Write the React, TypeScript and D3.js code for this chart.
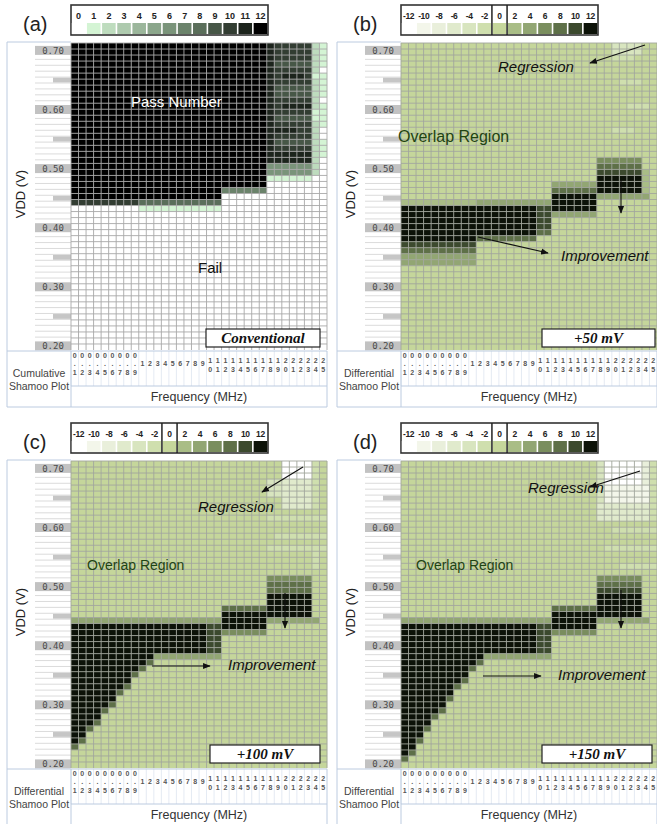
import React from "react";
import * as d3 from "d3";

const W = 657;
const H = 824;
const SANS = "'Liberation Sans', Arial, sans-serif";
const SERIF = "'Liberation Serif', 'Times New Roman', serif";
const MONO = "'DejaVu Sans Mono', monospace";

// ---------- data ----------
const freqLabels = [
  "0.1", "0.2", "0.3", "0.4", "0.5", "0.6", "0.7", "0.8", "0.9",
  "1", "2", "3", "4", "5", "6", "7", "8", "9",
  "10", "11", "12", "13", "14", "15", "16", "17", "18", "19", "20", "21", "22", "23", "24", "25",
];
const vddRows = d3.range(70, 19, -1).map((v) => (v / 100).toFixed(2));
const vddTickLabels = ["0.70", "0.60", "0.50", "0.40", "0.30", "0.20"];
const vddMidTicks = ["0.65", "0.55", "0.45", "0.35", "0.25"];

const passLegend = [0, 1, 2, 3, 4, 5, 6, 7, 8, 9, 10, 11, 12];
const passColors = [
  "#ffffff", "#d4f4d4", "#bedcbe", "#aecaae", "#9bb69b", "#8ba68b", "#7a947a",
  "#6b836b", "#5a6e5a", "#475747", "#323d32", "#1c241c", "#000000",
];
const diffLegend = [-12, -10, -8, -6, -4, -2, 0, 2, 4, 6, 8, 10, 12];
const diffColors = [
  "#ffffff", "#f3f6ea", "#e9efdb", "#e0eacc", "#d8e5bf", "#cfdfae", "#c5d69b",
  "#a9bd86", "#92a673", "#7a8e5e", "#5e7048", "#3c4a2e", "#0c1208",
];

type Patch = [number, number, number, number, number]; // col0, col1, row0, row1, value

const panelACells: Patch[] = [
  [0, 19, 0, 25, 12],
  [0, 8, 26, 26, 10],
  [9, 19, 26, 26, 8],
  [9, 19, 27, 27, 1],
  [20, 25, 0, 23, 12],
  [20, 25, 24, 24, 7],
  [26, 31, 0, 19, 10],
  [26, 26, 0, 19, 11],
  [27, 31, 3, 3, 9],
  [27, 31, 7, 8, 9],
  [28, 30, 5, 5, 11],
  [28, 31, 10, 10, 11],
  [27, 31, 12, 12, 9],
  [27, 29, 14, 14, 11],
  [27, 31, 16, 16, 9],
  [26, 31, 18, 19, 11],
  [26, 31, 20, 21, 6],
  [26, 31, 22, 22, 1],
  [32, 32, 0, 21, 2],
  [32, 32, 5, 5, 1],
  [32, 32, 11, 12, 1],
  [33, 33, 0, 18, 1],
  [33, 33, 4, 4, 0],
  [33, 33, 9, 9, 0],
  [33, 33, 14, 15, 0],
];

const panelBCells: Patch[] = [
  [28, 31, 0, 1, -4],
  [28, 30, 2, 2, -2],
  [29, 31, 6, 6, -2],
  [30, 32, 10, 10, -2],
  [28, 30, 14, 14, -2],
  [0, 9, 26, 26, 2],
  [10, 19, 26, 26, 3],
  [0, 9, 27, 31, 12],
  [0, 9, 32, 32, 11],
  [0, 9, 33, 33, 9],
  [0, 9, 34, 34, 7],
  [0, 9, 35, 36, 4],
  [10, 17, 27, 31, 12],
  [10, 17, 32, 32, 8],
  [18, 19, 27, 30, 10],
  [18, 19, 31, 31, 7],
  [20, 25, 23, 23, 3],
  [20, 25, 24, 24, 7],
  [20, 25, 25, 27, 12],
  [20, 25, 28, 28, 4],
  [26, 31, 19, 19, 5],
  [26, 31, 20, 20, 7],
  [26, 31, 21, 21, 9],
  [26, 31, 22, 23, 12],
  [26, 31, 24, 24, 11],
  [26, 32, 25, 25, 3],
  [32, 32, 21, 24, 2],
];

const panelCCells: Patch[] = [
  [28, 31, 0, 2, -12],
  [32, 32, 0, 7, -2],
  [26, 27, 3, 5, -4],
  [28, 31, 3, 7, -6],
  [26, 33, 9, 9, -2],
  [27, 33, 12, 12, -2],
  [26, 33, 14, 14, -2],
  [32, 32, 15, 17, -2],
  [26, 31, 19, 19, 5],
  [26, 31, 20, 20, 7],
  [26, 31, 21, 21, 8],
  [26, 31, 22, 25, 12],
  [26, 32, 26, 26, 3],
  [20, 25, 24, 24, 8],
  [20, 25, 25, 27, 12],
  [20, 25, 28, 28, 5],
  [0, 19, 26, 26, 3],
  [0, 17, 27, 31, 12],
  [18, 19, 27, 31, 10],
  [11, 19, 32, 32, 4],
  [0, 0, 32, 46, 12], [0, 0, 47, 47, 7],
  [1, 1, 32, 45, 12], [1, 1, 46, 46, 7],
  [2, 2, 32, 43, 12], [2, 2, 44, 44, 7],
  [3, 3, 32, 42, 12], [3, 3, 43, 43, 7],
  [4, 4, 32, 40, 12], [4, 4, 41, 41, 7],
  [5, 5, 32, 39, 12], [5, 5, 40, 40, 7],
  [6, 6, 32, 37, 12], [6, 6, 38, 38, 7],
  [7, 7, 32, 36, 12], [7, 7, 37, 37, 7],
  [8, 8, 32, 34, 12], [8, 8, 35, 35, 7],
  [9, 9, 32, 33, 12], [9, 9, 34, 34, 7],
  [10, 10, 32, 32, 12], [10, 10, 33, 33, 7],
];

const panelDCells: Patch[] = [
  [27, 31, 0, 3, -12],
  [27, 32, 4, 6, -10],
  [32, 32, 0, 3, -8],
  [26, 26, 0, 6, -4],
  [26, 32, 7, 9, -6],
  [33, 33, 0, 9, -2],
  [28, 33, 11, 11, -2],
  [27, 33, 14, 14, -2],
  [29, 33, 17, 17, -2],
  [26, 31, 19, 19, 5],
  [26, 31, 20, 20, 7],
  [26, 31, 21, 21, 9],
  [26, 31, 22, 25, 12],
  [26, 32, 26, 26, 3],
  [20, 25, 24, 24, 8],
  [20, 25, 25, 27, 12],
  [20, 25, 28, 28, 5],
  [0, 19, 26, 26, 3],
  [0, 17, 27, 31, 12],
  [18, 19, 27, 31, 10],
  [11, 19, 32, 32, 4],
  [0, 0, 32, 48, 12], [0, 0, 49, 49, 7],
  [1, 1, 32, 47, 12], [1, 1, 48, 48, 7],
  [2, 2, 32, 45, 12], [2, 2, 46, 46, 7],
  [3, 3, 32, 43, 12], [3, 3, 44, 44, 7],
  [4, 4, 32, 41, 12], [4, 4, 42, 42, 7],
  [5, 5, 32, 40, 12], [5, 5, 41, 41, 7],
  [6, 6, 32, 38, 12], [6, 6, 39, 39, 7],
  [7, 7, 32, 36, 12], [7, 7, 37, 37, 7],
  [8, 8, 32, 35, 12], [8, 8, 36, 36, 7],
  [9, 9, 32, 33, 12], [9, 9, 34, 34, 7],
  [10, 10, 32, 32, 12], [10, 10, 33, 33, 7],
];

// ---------- layout ----------
const GX0 = 71, GX1 = 327, GY0 = 43, GY1 = 350;
const TX0 = 7;
const xBand = d3.scaleBand<string>().domain(freqLabels).range([GX0, GX1]);
const yBand = d3.scaleBand<string>().domain(vddRows).range([GY0, GY1]);
const yTick = d3.scaleLinear().domain([0.7, 0.2]).range([50.5, 346]);
const legendX = d3.scaleBand<string>().range([71, 268]);

function buildGrid(patches: Patch[]): number[][] {
  const g = vddRows.map(() => freqLabels.map(() => 0));
  for (const [c0, c1, r0, r1, v] of patches) {
    for (let r = r0; r <= r1; r++) for (let c = c0; c <= c1; c++) g[r][c] = v;
  }
  return g;
}

function Legend({ diff }: { diff: boolean }) {
  const labels = (diff ? diffLegend : passLegend).map(String);
  const colors = diff ? diffColors : passColors;
  const lx = legendX.copy().domain(labels);
  const bw = lx.bandwidth();
  return (
    <g>
      <rect x={71} y={5} width={197} height={30} fill="#fff" stroke="#333" strokeWidth={1.6} />
      {labels.map((l, i) => (
        <g key={l}>
          <text x={(lx(l) as number) + bw / 2} y={19} textAnchor="middle" fontFamily={SANS}
            fontSize={diff ? 8.5 : 9} fontWeight="bold" fill="#222"
            letterSpacing={diff ? -0.4 : 0}>{l}</text>
          <rect x={(lx(l) as number) + 0.8} y={23} width={bw - 1.6} height={11} fill={colors[i]} />
        </g>
      ))}
      {diff && (
        <>
          <line x1={lx("0") as number} x2={lx("0") as number} y1={5} y2={35} stroke="#222" strokeWidth={1.5} />
          <line x1={(lx("0") as number) + bw} x2={(lx("0") as number) + bw} y1={5} y2={35} stroke="#222" strokeWidth={1.5} />
        </>
      )}
    </g>
  );
}

type Note = { text: string; x: number; y: number; size: number; italic?: boolean; color?: string };
type Arrow = [number, number, number, number];

function Panel(props: {
  ox: number; oy: number; letter: string; diff: boolean; cells: Patch[];
  boxText: string; box: [number, number, number, number];
  notes: Note[]; arrows: Arrow[];
}) {
  const { ox, oy, letter, diff, cells, boxText, box, notes, arrows } = props;
  const grid = buildGrid(cells);
  const colors = diff ? diffColors : passColors;
  const colorOf = (v: number) => (diff ? colors[Math.round((v + 12) / 2)] : colors[v]);
  const bw = xBand.bandwidth();
  const bh = yBand.bandwidth();
  const step = (yTick(0.69) as number) - (yTick(0.7) as number);
  const border = "#bccbe0";
  const gridLine = diff ? "#a2a69c" : "#a8a8a8";
  return (
    <g transform={`translate(${ox},${oy})`}>
      <text x={23} y={31} fontFamily={SANS} fontSize={20} fill="#222">{letter}</text>
      <Legend diff={diff} />

      {/* left column */}
      <rect x={TX0} y={GY0 - 1} width={GX0 - TX0} height={GY1 - GY0 + 1} fill="#fff" />
      {vddRows.map((v) => (
        <line key={"l" + v} x1={35} x2={GX0} y1={(yTick(+v) as number) + step / 2} y2={(yTick(+v) as number) + step / 2}
          stroke="#d2d2d2" strokeWidth={0.8} />
      ))}
      {vddMidTicks.map((v) => (
        <rect key={"m" + v} x={53} y={(yTick(+v) as number) - 2.4} width={18} height={4.8} fill="#c6c6c6" />
      ))}
      {vddTickLabels.map((v) => (
        <g key={"t" + v}>
          <rect x={35} y={(yTick(+v) as number) - 4.6} width={36} height={9} fill="#c2c2c2" />
          <text x={53} y={(yTick(+v) as number) + 3.2} textAnchor="middle" fontFamily={MONO} fontSize={9} fill="#4a4a4a">{v}</text>
        </g>
      ))}
      <text transform={`translate(25,194) rotate(-90)`} textAnchor="middle" fontFamily={SANS} fontSize={13} fill="#222">VDD (V)</text>

      {/* cells */}
      {grid.map((row, r) =>
        row.map((v, c) => (
          <rect key={r + "-" + c} x={xBand(freqLabels[c])} y={yBand(vddRows[r])} width={bw + 0.2} height={bh + 0.2} fill={colorOf(v)} />
        ))
      )}
      {freqLabels.map((f) => (
        <line key={"v" + f} x1={xBand(f)} x2={xBand(f)} y1={GY0} y2={GY1} stroke={gridLine} strokeWidth={0.9} />
      ))}
      {vddRows.map((v) => (
        <line key={"h" + v} x1={GX0} x2={GX1} y1={yBand(v)} y2={yBand(v)} stroke={gridLine} strokeWidth={0.9} />
      ))}
      <line x1={GX1} x2={GX1} y1={GY0} y2={GY1} stroke={gridLine} strokeWidth={0.9} />

      {/* annotations */}
      {notes.map((n, i) => (
        <text key={"n" + i} x={n.x} y={n.y} fontFamily={SANS} fontSize={n.size}
          fontStyle={n.italic ? "italic" : "normal"} fill={n.color || "#111"}>{n.text}</text>
      ))}
      {arrows.map((a, i) => (
        <line key={"a" + i} x1={a[0]} y1={a[1]} x2={a[2]} y2={a[3]} stroke="#111" strokeWidth={1.1} markerEnd="url(#arr)" />
      ))}
      <rect x={box[0]} y={box[1]} width={box[2] - box[0]} height={box[3] - box[1]} fill="#fff" stroke="#222" strokeWidth={1.2} />
      <text x={(box[0] + box[2]) / 2} y={box[3] - 4.5} textAnchor="middle" fontFamily={SERIF} fontSize={15}
        fontWeight="bold" fontStyle="italic" fill="#111">{boxText}</text>

      {/* bottom table */}
      {freqLabels.map((f) => (
        <line key={"bv" + f} x1={xBand(f)} x2={xBand(f)} y1={351} y2={386} stroke="#dde5f0" strokeWidth={0.8} />
      ))}
      {freqLabels.map((f) => {
        const cx = (xBand(f) as number) + bw / 2;
        const st = { fontFamily: SANS, fontSize: 7, fontWeight: "bold" as const, fill: "#555", textAnchor: "middle" as const };
        if (f.startsWith("0.")) {
          return (
            <text key={"tl" + f} x={cx} y={358} {...st}>
              <tspan x={cx} y={358}>0</tspan>
              <tspan x={cx} y={365.5}>.</tspan>
              <tspan x={cx} y={374.5}>{f.slice(2)}</tspan>
            </text>
          );
        }
        if (f.length === 1) return <text key={"tl" + f} x={cx} y={366} {...st}>{f}</text>;
        return (
          <text key={"tl" + f} x={cx} y={363} {...st}>
            <tspan x={cx} y={363}>{f[0]}</tspan>
            <tspan x={cx} y={371.5}>{f[1]}</tspan>
          </text>
        );
      })}
      <text x={39} y={377} textAnchor="middle" fontFamily={SANS} fontSize={10.5} fill="#444">
        <tspan x={39} y={377}>{diff ? "Differential" : "Cumulative"}</tspan>
        <tspan x={39} y={389.5}>Shamoo Plot</tspan>
      </text>
      <text x={(GX0 + GX1) / 2} y={401} textAnchor="middle" fontFamily={SANS} fontSize={12.5} fill="#333">Frequency (MHz)</text>
      <line x1={TX0} x2={TX0} y1={GY0 - 1} y2={407} stroke={border} strokeWidth={1} />
      <line x1={TX0} x2={GX0} y1={GY0 - 1} y2={GY0 - 1} stroke={border} strokeWidth={1} />
      <line x1={TX0} x2={GX1} y1={351} y2={351} stroke={border} strokeWidth={1} />
      <line x1={TX0} x2={GX1} y1={407} y2={407} stroke={border} strokeWidth={1} />
      <line x1={GX0} x2={GX0} y1={351} y2={407} stroke={border} strokeWidth={1} />
      <line x1={GX0} x2={GX1} y1={386} y2={386} stroke={border} strokeWidth={1} />
      <line x1={GX1} x2={GX1} y1={351} y2={407} stroke={border} strokeWidth={1} />
    </g>
  );
}

export default function App() {
  const green = "#1f4414";
  return (
    <svg width={W} height={H} viewBox={`0 0 ${W} ${H}`} style={{ position: "absolute", left: 0, top: 0, background: "#fff" }}>
      <defs>
        <marker id="arr" viewBox="0 0 10 10" refX={9} refY={5} markerWidth={7} markerHeight={7} orient="auto">
          <path d="M0,1 L10,5 L0,9 z" fill="#111" />
        </marker>
      </defs>
      <rect width={W} height={H} fill="#fff" />
      <Panel ox={0} oy={0} letter="(a)" diff={false} cells={panelACells}
        boxText="Conventional" box={[206, 329, 320, 347]}
        notes={[
          { text: "Pass Number", x: 131, y: 107, size: 15, color: "#fff" },
          { text: "Fail", x: 198, y: 273, size: 15, color: "#111" },
        ]}
        arrows={[]} />
      <Panel ox={330} oy={0} letter="(b)" diff={true} cells={panelBCells}
        boxText="+50 mV" box={[212, 329, 325, 347]}
        notes={[
          { text: "Overlap Region", x: 68, y: 142, size: 16, color: green },
          { text: "Regression", x: 168, y: 72, size: 15, italic: true },
          { text: "Improvement", x: 231, y: 261, size: 15, italic: true },
        ]}
        arrows={[[315, 45, 260, 63], [148, 237, 218, 253], [291, 180, 291, 213]]} />
      <Panel ox={0} oy={418} letter="(c)" diff={true} cells={panelCCells}
        boxText="+100 mV" box={[210, 327, 320, 345]}
        notes={[
          { text: "Overlap Region", x: 87, y: 152, size: 14, color: green },
          { text: "Regression", x: 198, y: 94, size: 15, italic: true },
          { text: "Improvement", x: 228, y: 252, size: 15, italic: true },
        ]}
        arrows={[[303, 49, 262, 74], [152, 248, 210, 248], [285, 175, 285, 210]]} />
      <Panel ox={330} oy={418} letter="(d)" diff={true} cells={panelDCells}
        boxText="+150 mV" box={[212, 327, 322, 345]}
        notes={[
          { text: "Overlap Region", x: 86, y: 152, size: 14, color: green },
          { text: "Regression", x: 198, y: 75, size: 15, italic: true },
          { text: "Improvement", x: 228, y: 262, size: 15, italic: true },
        ]}
        arrows={[[310, 53, 260, 69], [153, 258, 211, 258], [291, 172, 291, 210]]} />
    </svg>
  );
}
